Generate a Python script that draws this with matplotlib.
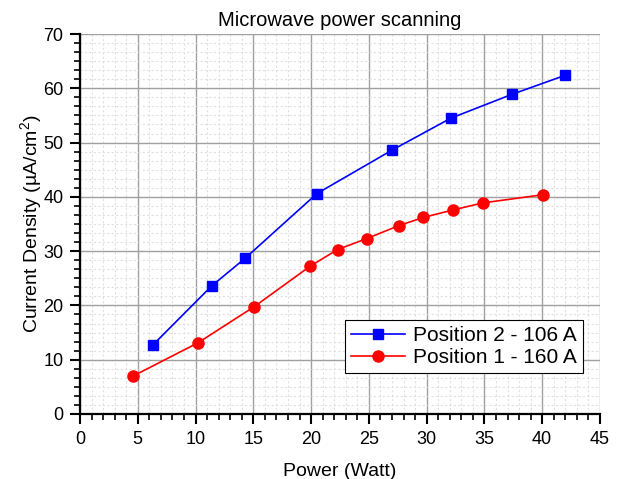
import matplotlib
matplotlib.use("Agg")
import matplotlib.pyplot as plt
from matplotlib.ticker import MultipleLocator, AutoMinorLocator

plt.rcParams['font.family'] = ['Liberation Sans', 'DejaVu Sans']
plt.rcParams['mathtext.fontset'] = 'custom'
plt.rcParams['mathtext.rm'] = 'Liberation Sans'

pos2_power = [6.3, 11.4, 14.3, 20.5, 27.0, 32.1, 37.4, 42.0]
pos2_density = [12.7, 23.6, 28.7, 40.6, 48.6, 54.5, 58.9, 62.4]
pos1_power = [4.6, 10.2, 15.1, 19.9, 22.3, 24.8, 27.6, 29.7, 32.3, 34.9, 40.1]
pos1_density = [7.0, 13.1, 19.8, 27.2, 30.3, 32.3, 34.7, 36.2, 37.6, 38.9, 40.4]

fig = plt.figure(figsize=(6.23, 4.79), dpi=100)
ax = fig.add_axes([0.1284, 0.1357, 0.8346, 0.7933])

ax.plot(pos2_power, pos2_density, color='#0000ff', marker='s', markersize=7,
        linewidth=1.2, label='Position 2 - 106 A', zorder=3)
ax.plot(pos1_power, pos1_density, color='#ff0000', marker='o', markersize=8,
        linewidth=1.2, label='Position 1 - 160 A', zorder=3)

ax.set_xlim(0, 45)
ax.set_ylim(0, 70)
ax.xaxis.set_major_locator(MultipleLocator(5))
ax.xaxis.set_minor_locator(MultipleLocator(1))
ax.yaxis.set_major_locator(MultipleLocator(10))
ax.yaxis.set_minor_locator(AutoMinorLocator(6))

ax.grid(which='major', color='#a0a0a0', linewidth=1.0, linestyle='-', zorder=1)
ax.grid(which='minor', color='#e0e0e0', linewidth=0.8, linestyle=(0, (2, 2)), zorder=1)
ax.set_axisbelow(True)

for s in ['top', 'right']:
    ax.spines[s].set_visible(False)
for s in ['left', 'bottom']:
    ax.spines[s].set_linewidth(1.6)
    ax.spines[s].set_color('black')

ax.tick_params(which='major', direction='out', length=7, width=1.5, labelsize=13, pad=5)
ax.tick_params(which='minor', direction='out', length=4, width=1.2)

ax.set_xlabel('Power (Watt)', fontsize=14, labelpad=11)
ax.set_ylabel('Current Density (\u00b5A/cm$^{2}$)', fontsize=14)
ax.yaxis.set_label_coords(-0.068, 0.5)
ax.set_title('Microwave power scanning', fontsize=14.5, pad=6)

leg = ax.legend(loc='lower right', bbox_to_anchor=(0.987, 0.08), fontsize=15,
                frameon=True, fancybox=False, edgecolor='black', framealpha=1,
                handlelength=2.6, borderpad=0.28, labelspacing=0.15, handletextpad=0.4)
leg.get_frame().set_linewidth(0.8)

fig.savefig('out.png', dpi=100)
